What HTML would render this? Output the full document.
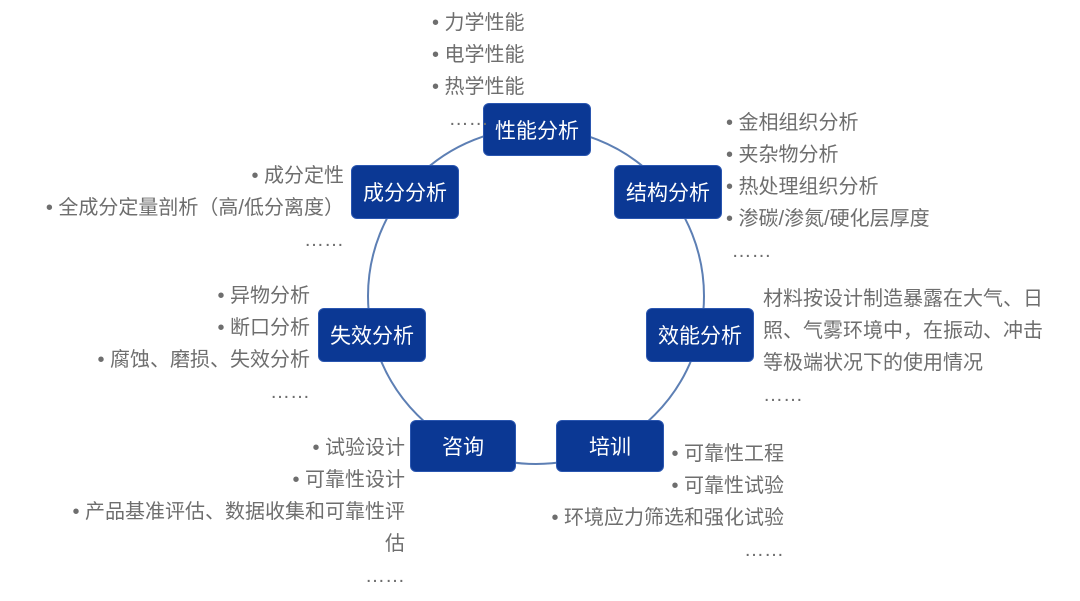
<!DOCTYPE html>
<html><head><meta charset="utf-8"><style>
body{margin:0;width:1080px;height:601px;background:#fff;position:relative;overflow:hidden;font-family:"Liberation Sans","Noto Sans CJK SC",sans-serif}
.b{position:absolute;background:#0b3894;color:#fff;border-radius:6px;font-size:21px;display:flex;align-items:center;justify-content:center;border:1px solid #2a56b0}
.t{position:absolute;color:#6e6e6e;font-size:20px;white-space:nowrap;line-height:32px}
.r{text-align:right}
</style></head><body>
<svg width="1080" height="601" style="position:absolute;left:0;top:0"><circle cx="536" cy="296" r="168" fill="none" stroke="#5d7fb4" stroke-width="2"/></svg>
<div class="b" style="left:483px;top:103px;width:106px;height:51px">性能分析</div>
<div class="b" style="left:351px;top:165px;width:106px;height:52px">成分分析</div>
<div class="b" style="left:614px;top:165px;width:106px;height:52px">结构分析</div>
<div class="b" style="left:318px;top:308px;width:106px;height:52px">失效分析</div>
<div class="b" style="left:646px;top:308px;width:106px;height:52px">效能分析</div>
<div class="b" style="left:410px;top:420px;width:104px;height:50px">咨询</div>
<div class="b" style="left:556px;top:420px;width:106px;height:50px">培训</div>

<div class="t" style="left:432px;top:7px">• 力学性能<br>• 电学性能<br>• 热学性能<br>&nbsp;&nbsp;&nbsp;……</div>
<div class="t r" style="right:736px;top:160px">• 成分定性<br>• 全成分定量剖析（高/低分离度）<br>……</div>
<div class="t" style="left:726px;top:107px">• 金相组织分析<br>• 夹杂物分析<br>• 热处理组织分析<br>• 渗碳/渗氮/硬化层厚度<br>&nbsp;……</div>
<div class="t r" style="right:770px;top:280px">• 异物分析<br>• 断口分析<br>• 腐蚀、磨损、失效分析<br>……</div>
<div class="t" style="left:763px;top:283px;line-height:32px">材料按设计制造暴露在大气、日<br>照、气雾环境中，在振动、冲击<br>等极端状况下的使用情况<br>……</div>
<div class="t r" style="right:675px;top:432px">• 试验设计<br>• 可靠性设计<br>• 产品基准评估、数据收集和可靠性评<br>估<br>……</div>
<div class="t r" style="right:296px;top:438px">• 可靠性工程<br>• 可靠性试验<br>• 环境应力筛选和强化试验<br>……</div>
</body></html>
